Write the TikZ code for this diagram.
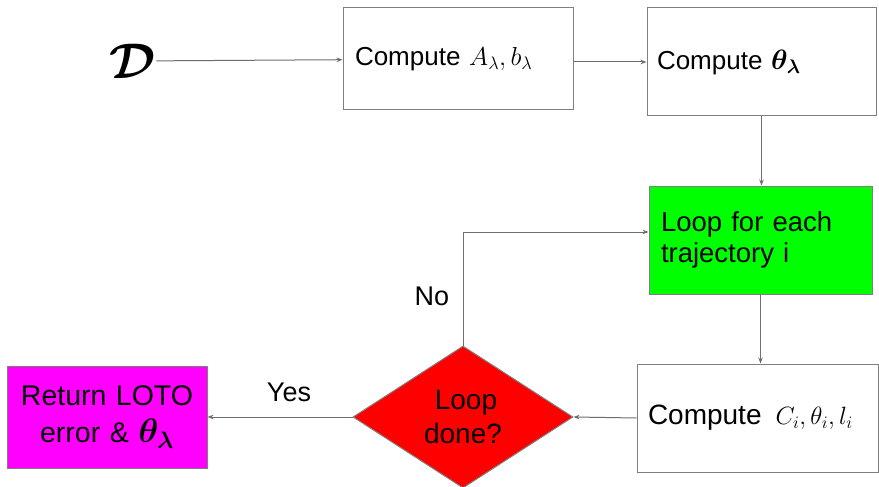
\RequirePackage{fix-cm}
\documentclass[tikz,border=0pt]{standalone}
\usepackage{amsmath,bm}
\usepackage{fontspec}
\setmainfont{Liberation Sans}
\usetikzlibrary{shapes.geometric,arrows.meta}
\definecolor{edgegray}{HTML}{7F7F7F}
\definecolor{arrgray}{HTML}{6E6E6E}
\definecolor{loopgreen}{HTML}{00FF00}
\definecolor{donered}{HTML}{FF0000}
\definecolor{retmagenta}{HTML}{FF00FF}
\tikzset{
  box/.style={draw=edgegray, line width=1pt, rectangle, inner ysep=0pt, align=left},
  arr/.style={draw=arrgray, line width=1pt, -{Stealth[length=6pt,width=4.5pt]}},
  lbl/.style={inner sep=0pt, font=\fontsize{27}{31}\selectfont}
}
\begin{document}
\begin{tikzpicture}[x=1pt,y=-1pt]
\useasboundingbox[fill=white] (0,0) rectangle (879,487);

\node[inner sep=0pt] (D) at (133,61) {\fontsize{50}{50}\selectfont$\bm{\mathcal{D}}$};

\node[box, minimum width=230pt, minimum height=102pt, inner xsep=12pt, text width=206pt,
      font=\fontsize{26}{31}\selectfont] (b1) at (458,59) {Compute $A_\lambda, b_\lambda$};

\node[box, minimum width=229pt, minimum height=108pt, inner xsep=10pt, text width=209pt,
      font=\fontsize{26}{31}\selectfont] (b2) at (761.5,62) {Compute {\fontsize{28}{31}\selectfont$\bm{\theta_\lambda}$}};

\node[box, fill=loopgreen, minimum width=223pt, minimum height=108pt, inner xsep=12pt, text width=199pt,
      font=\fontsize{27.5}{31}\selectfont] (green) at (760.5,240) {Loop for each\\trajectory i};

\node[box, minimum width=241.5pt, minimum height=108pt, inner xsep=11pt, text width=219.5pt,
      font=\fontsize{28}{31}\selectfont] (cbox) at (757.75,418) {Compute\hspace{14pt}{\fontsize{25}{25}\selectfont$C_i, \theta_i, l_i$}};

\node[diamond, draw=edgegray, line width=1pt, fill=donered, inner sep=0pt,
      minimum width=220pt, minimum height=142pt, align=center,
      font=\fontsize{28}{34}\selectfont] (dia) at (463,417) {\hspace*{6pt}Loop\\done?};

\node[box, fill=retmagenta, minimum width=200pt, minimum height=102pt, inner xsep=8pt, text width=184pt,
      align=center, font=\fontsize{28.5}{37}\selectfont] (ret) at (107,417)
      {Return LOTO\\error \& {\fontsize{34}{34}\selectfont$\bm{\theta_\lambda}$}};

\node[lbl] (no) at (432,296) {No};
\node[lbl] (yes) at (289,392) {Yes};

\coordinate (turn) at (463,232);

\draw[arr] (D) -- (b1);
\draw[arr] ([yshift=-3pt]b1.east) -- ([yshift=-3pt]b1.east -| b2.west);
\draw[arr] (b2.south) -- (b2.south |- green.north);
\draw[arr] (green.south) -- (green.south |- cbox.north);
\draw[arr] (cbox.west) -- (dia.east);
\draw[arr] (dia.west) -- (ret.east);
\draw[arr] (dia.north) -- (turn) -- (turn -| green.west);
\end{tikzpicture}
\end{document}
